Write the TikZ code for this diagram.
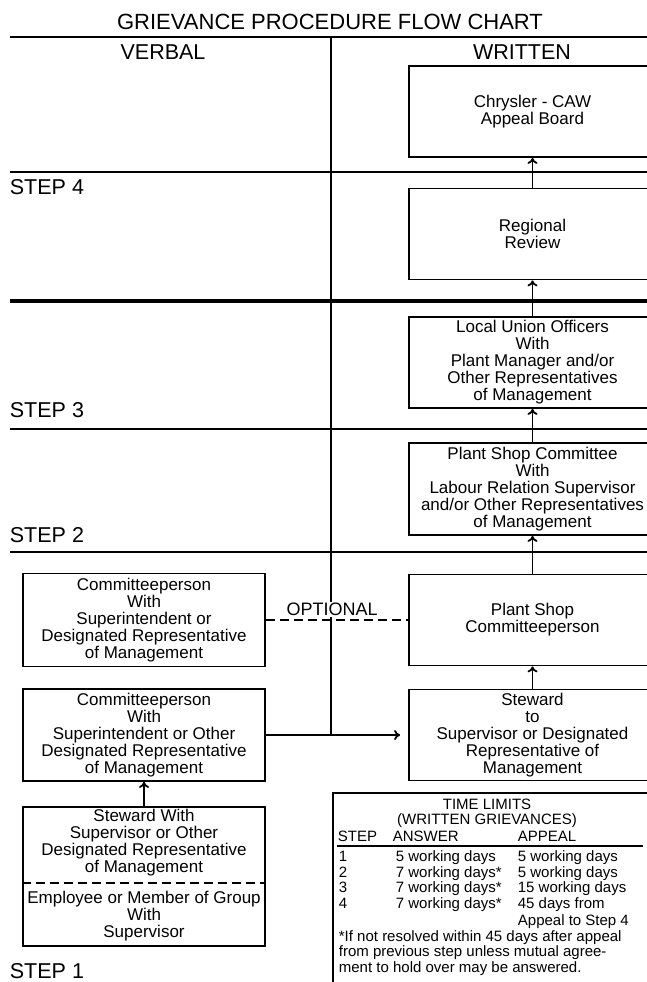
\documentclass[tikz,border=0pt]{standalone}
\usepackage{fontspec}
\setmainfont{Liberation Sans}
\usetikzlibrary{arrows.meta}
\newcommand{\boxfont}{\fontsize{17}{17}\selectfont}
\newcommand{\headfont}{\fontsize{21.5}{23}\selectfont}
\newcommand{\limfont}{\fontsize{15}{15.6}\selectfont}

\begin{document}
\begin{tikzpicture}[x=1pt,y=-1pt,line width=1.8pt,>={To[length=6pt,width=10pt]},
  stage/.style={draw,minimum width=247pt,minimum height=91pt,align=center,font=\boxfont,inner sep=0pt},
  verbal/.style={draw,minimum width=242pt,minimum height=92pt,align=center,font=\boxfont,inner sep=0pt},
  steplabel/.style={anchor=west,inner sep=0pt,font=\headfont},
  limit/.style={anchor=west,inner sep=0pt,font=\limfont,text height=10pt,text depth=3pt}]
  \def\lx{10};
  \def\rx{660};
  \def\mx{331};
  \def\rc{532.5};
  \def\lc{144};
  \useasboundingbox (0,0) rectangle (646,982);
  \draw (\lx,37)--(\rx,37);
  \draw (\lx,172)--(\rx,172);
  \draw[line width=4.5pt] (\lx,301)--(\rx,301);
  \draw (\lx,429)--(\rx,429);
  \draw (\lx,552)--(\rx,552);
  \draw (\mx,37)--(\mx,735);
  \node[font=\fontsize{22}{24}\selectfont] (title) at (330,22) {GRIEVANCE PROCEDURE FLOW CHART};
  \node[font=\headfont] (verbal) at (163,52) {VERBAL};
  \node[font=\headfont] (written) at (522,52) {WRITTEN};
  \node[steplabel] (step4) at (9,187) {STEP 4};
  \node[steplabel] (step3) at (9,410) {STEP 3};
  \node[steplabel] (step2) at (9,535) {STEP 2};
  \node[steplabel] (step1) at (9,971) {STEP 1};
  %written side
  \node[stage] (board) at (\rc,111.5) {Chrysler - CAW\\Appeal Board};
  \node[stage] (regional) at (\rc,234) {Regional\\Review};
  \node[stage] (union) at (\rc,362.5) {Local Union Officers\\With\\Plant Manager and/or\\Other Representatives\\of Management};
  \node[stage,minimum height=92pt] (shopcomm) at (\rc,489) {Plant Shop Committee\\With\\Labour Relation Supervisor\\and/or Other Representatives\\of Management};
  \node[stage] (shopperson) at (\rc,620) {Plant Shop\\Committeeperson};
  \node[stage] (steward) at (\rc,735) {Steward\\to\\Supervisor or Designated\\Representative of\\Management};
  %verbal side
  \node[verbal,minimum height=93pt] (supcomm) at (\lc,620) {Committeeperson\\With\\Superintendent or\\Designated Representative\\of Management};
  \node[verbal] (othercomm) at (\lc,735) {Committeeperson\\With\\Superintendent or Other\\Designated Representative\\of Management};
  \node[verbal,minimum height=139pt] (stewsup) at (\lc,876.5) {};
  \node[font=\boxfont,align=center] (stewtext) at (\lc,843) {Steward With\\Supervisor or Other\\Designated Representative\\of Management};
  \node[font=\boxfont,align=center] (emptext) at (\lc,916) {Employee or Member of Group\\With\\Supervisor};
  \coordinate (split) at (\lc,883);
  \draw[dash pattern=on 9pt off 5pt] (stewsup.west |- split)--(stewsup.east |- split);
  %connectors
  \draw[->] (regional.north)--(board.south);
  \draw[->] (union.north)--(regional.south);
  \draw[->] (shopcomm.north)--(union.south);
  \draw[->] (shopperson.north)--(shopcomm.south);
  \draw[->] (steward.north)--(shopperson.south);
  \draw[->] (stewsup.north)--(othercomm.south);
  \draw[->,shorten >=8pt] (othercomm.east)--(steward.west);
  \draw[dash pattern=on 9pt off 5pt] (supcomm.east)--node[pos=0.465,above=2pt,fill=white,inner sep=1pt,font=\fontsize{18}{20}\selectfont]{OPTIONAL} (shopperson.west);
  %time limits
  \node[draw,anchor=north west,minimum width=330pt,minimum height=220pt,inner sep=0pt] (limits) at (332,792) {};
  \node[font=\limfont,align=center,inner sep=0pt] (limtitle) at (487,813.5) {TIME LIMITS\\(WRITTEN GRIEVANCES)};
  \node[limit] (hstep) at (337,838) {STEP};
  \node[limit] (hanswer) at (392,838) {ANSWER};
  \node[limit] (happeal) at (517,838) {APPEAL};
  \draw[line width=1.3pt] (337,846)--(643,846);
  \foreach \s/\ans/\app [count=\i from 0] in {1/5 working days/5 working days,2/7 working days*/5 working days,3/7 working days*/15 working days,4/7 working days*/45 days from}{
    \node[limit] (s\s) at (338,{858+15.7*\i}) {\s};
    \node[limit] (a\s) at (395,{858+15.7*\i}) {\ans};
    \node[limit] (p\s) at (517,{858+15.7*\i}) {\app};
  }
  \node[limit] (p4b) at (517,922) {Appeal to Step 4};
  \node[anchor=west,align=left,inner sep=0pt,font=\limfont] (note) at (338,953) {*If not resolved within 45 days after appeal\\ from previous step unless mutual agree-\\ment to hold over may be answered.};
\end{tikzpicture}
\end{document}
